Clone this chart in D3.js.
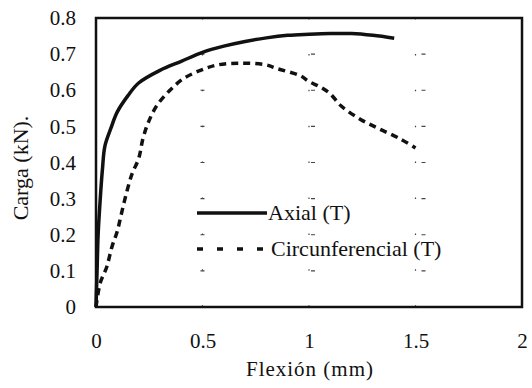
<!DOCTYPE html>
<html>
<head>
<meta charset="utf-8">
<script src="https://cdn.jsdelivr.net/npm/d3@7"></script>
<style>
  html, body { margin: 0; padding: 0; background: #fff; }
  svg { display: block; }
  text { font-family: "Liberation Serif", "Times New Roman", serif; fill: #111; }
</style>
</head>
<body>
<svg id="chart" width="532" height="388"></svg>
<script>
// ---- data ----
const xTicks = [0, 0.5, 1, 1.5, 2];
const xTickLabels = ["0", "0.5", "1", "1.5", "2"];
const yTicks = [0, 0.1, 0.2, 0.3, 0.4, 0.5, 0.6, 0.7, 0.8];
const yTickLabels = ["0", "0.1", "0.2", "0.3", "0.4", "0.5", "0.6", "0.7", "0.8"];

const axialX = [0, 0.005, 0.01, 0.02, 0.03, 0.042, 0.07, 0.1, 0.15, 0.2, 0.3, 0.4, 0.5, 0.6, 0.7, 0.8, 0.9, 1.0, 1.1, 1.2, 1.3, 1.4];
const axialY = [0, 0.1, 0.2, 0.3, 0.38, 0.446, 0.495, 0.54, 0.585, 0.62, 0.655, 0.68, 0.705, 0.722, 0.735, 0.745, 0.752, 0.755, 0.757, 0.757, 0.752, 0.744];

const circX = [0, 0.02, 0.05, 0.075, 0.1, 0.12, 0.145, 0.17, 0.2, 0.22, 0.245, 0.285, 0.347, 0.41, 0.49, 0.57, 0.68, 0.8, 0.85, 0.96, 1.0, 1.05, 1.1, 1.15, 1.24, 1.33, 1.43, 1.5];
const circY = [0, 0.067, 0.11, 0.167, 0.21, 0.26, 0.32, 0.37, 0.41, 0.465, 0.51, 0.557, 0.60, 0.632, 0.655, 0.67, 0.675, 0.67, 0.66, 0.64, 0.624, 0.61, 0.59, 0.557, 0.52, 0.493, 0.465, 0.44];

const seriesNames = ["Axial (T)", "Circunferencial (T)"];
const xTitle = "Flexión (mm)";
const yTitle = "Carga (kN).";

// ---- drawing ----
const svg = d3.select("#chart");
const m = { left: 96, right: 522, top: 18, bottom: 307 };
const x = d3.scaleLinear().domain([0, 2]).range([m.left, m.right]);
const y = d3.scaleLinear().domain([0, 0.8]).range([m.bottom, m.top]);

// faint dotted grid
const grid = svg.append("g").attr("stroke", "#444").attr("stroke-width", 1.2).attr("fill", "none");
grid.selectAll("line.v").data(xTicks.slice(1, -1)).join("line")
  .attr("x1", d => x(d)).attr("x2", d => x(d))
  .attr("y1", y(0.8)).attr("y2", y(0))
  .attr("stroke-dasharray", "1.5,34.4");
grid.selectAll("line.h").data(yTicks.slice(1, -1)).join("line")
  .attr("x1", x(0)).attr("x2", x(2))
  .attr("y1", d => y(d)).attr("y2", d => y(d))
  .attr("stroke-dasharray", "0,104.5,4,2");

// axes (tick labels only)
const xAxis = d3.axisBottom(x).tickValues(xTicks).tickFormat((d, i) => xTickLabels[i]).tickSize(0).tickPadding(26);
const gx = svg.append("g").attr("transform", `translate(0,${m.bottom})`).call(xAxis);
gx.select(".domain").remove();
gx.selectAll("text").attr("font-size", 21).attr("font-family", "Liberation Serif").attr("fill", "#111");

const yAxis = d3.axisLeft(y).tickValues(yTicks).tickFormat((d, i) => yTickLabels[i]).tickSize(0).tickPadding(20);
const gy = svg.append("g").attr("transform", `translate(${m.left},0)`).call(yAxis);
gy.select(".domain").remove();
gy.selectAll("text").attr("font-size", 21).attr("font-family", "Liberation Serif").attr("fill", "#111");

// frame
svg.append("rect")
  .attr("x", m.left).attr("y", m.top)
  .attr("width", m.right - m.left).attr("height", m.bottom - m.top)
  .attr("fill", "none").attr("stroke", "#111").attr("stroke-width", 2.5);

// lines
const lineGen = d3.line().x(d => x(d[0])).y(d => y(d[1])).curve(d3.curveCatmullRom);
const axialData = axialX.map((v, i) => [v, axialY[i]]);
const circData = circX.map((v, i) => [v, circY[i]]);

svg.append("path").datum(axialData).attr("d", lineGen)
  .attr("fill", "none").attr("stroke", "#111").attr("stroke-width", 3.5).attr("stroke-linejoin", "round");
svg.append("path").datum(circData).attr("d", lineGen)
  .attr("fill", "none").attr("stroke", "#111").attr("stroke-width", 3.5).attr("stroke-dasharray", "7,5");

// legend
const lg = svg.append("g");
lg.append("line").attr("x1", 197).attr("x2", 267).attr("y1", 213).attr("y2", 213)
  .attr("stroke", "#111").attr("stroke-width", 3.5);
lg.append("text").attr("x", 268).attr("y", 220).attr("font-size", 22).text(seriesNames[0]);
lg.append("line").attr("x1", 197).attr("x2", 270).attr("y1", 249).attr("y2", 249)
  .attr("stroke", "#111").attr("stroke-width", 3.5).attr("stroke-dasharray", "6,14");
lg.append("text").attr("x", 271).attr("y", 256).attr("font-size", 22).text(seriesNames[1]);

// titles
svg.append("text").attr("x", 310).attr("y", 376).attr("text-anchor", "middle")
  .attr("font-size", 21).attr("letter-spacing", 1).text(xTitle);
svg.append("text").attr("transform", "translate(28,168) rotate(-90)").attr("text-anchor", "middle")
  .attr("font-size", 22).text(yTitle);
</script>
</body>
</html>
